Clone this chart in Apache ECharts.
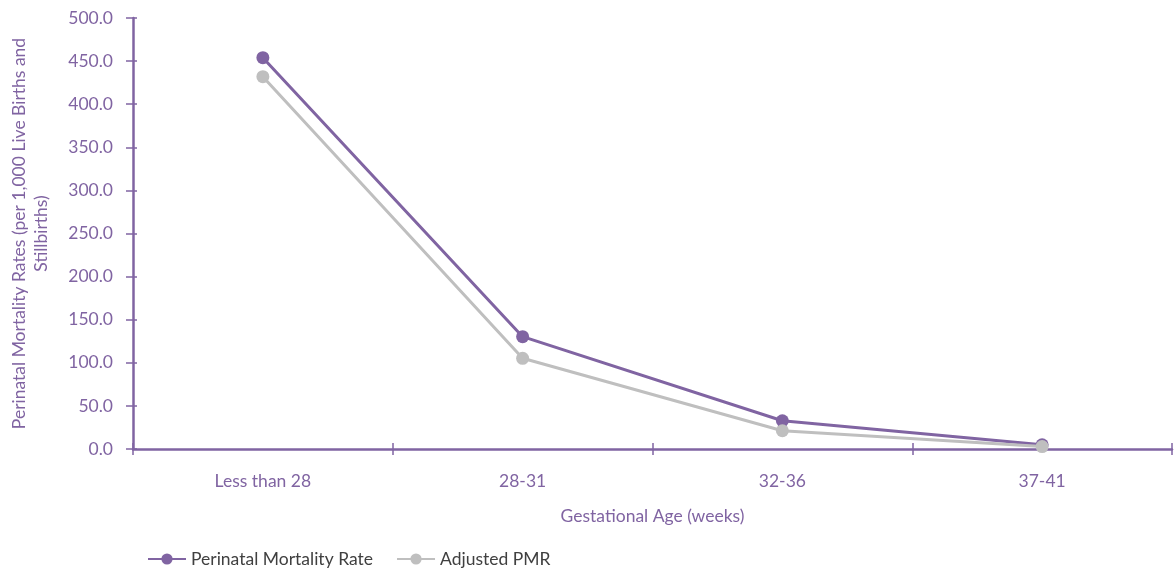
<!DOCTYPE html>
<html>
<head>
<meta charset="utf-8">
<script src="https://cdn.jsdelivr.net/npm/echarts@6/dist/echarts.min.js"></script>
<style>
  html, body { margin: 0; padding: 0; background: #ffffff; }
  #chart { width: 1176px; height: 570px; }
</style>
</head>
<body>
<div id="chart"></div>
<script>
// Gestational age groups
const categories = ['Less than 28', '28-31', '32-36', '37-41'];
// Perinatal mortality per 1,000 live births and stillbirths
const pmrValues = [454.0, 130.3, 32.8, 4.8];
const adjustedPmrValues = [431.9, 105.2, 21.2, 2.8];
const yTicks = { min: 0, max: 500, step: 50 };

const purple = '#8064A2';
const gray = '#BFBFBF';
const font = 'Lato, "Open Sans", sans-serif';
const fs = 17.5;

const chart = echarts.init(document.getElementById('chart'), null, { renderer: 'canvas' });

const baseY = {
  type: 'value',
  min: yTicks.min,
  max: yTicks.max,
  interval: yTicks.step,
  splitLine: { show: false }
};

chart.setOption({
  animation: false,
  backgroundColor: '#ffffff',
  textStyle: { fontFamily: font },
  grid: { left: 133, right: 4, top: 18, bottom: 121, containLabel: false, outerBoundsMode: 'none' },
  legend: {
    left: 147,
    top: 550,
    padding: 0,
    itemWidth: 38,
    itemHeight: 14,
    itemGap: 23,
    textStyle: { color: '#404040', fontSize: fs, fontFamily: font },
    data: ['Perinatal Mortality Rate', 'Adjusted PMR']
  },
  xAxis: [
    {
      type: 'category',
      data: categories,
      boundaryGap: true,
      name: 'Gestational Age (weeks)',
      nameLocation: 'middle',
      nameGap: 58,
      nameTextStyle: { color: purple, fontSize: fs, fontFamily: font },
      axisLine: { lineStyle: { color: purple, width: 2.5 } },
      axisTick: { show: true, length: 6, lineStyle: { color: purple, width: 1.5 } },
      axisLabel: { color: purple, fontSize: fs, margin: 23, fontFamily: font }
    },
    {
      type: 'category',
      data: categories,
      boundaryGap: true,
      position: 'bottom',
      axisLine: { show: false },
      axisTick: { show: true, inside: true, length: 6, lineStyle: { color: purple, width: 1.5 } },
      axisLabel: { show: false }
    }
  ],
  yAxis: [
    Object.assign({}, baseY, {
      name: 'Perinatal Mortality Rates (per 1,000 Live Births and\nStillbirths)',
      nameLocation: 'middle',
      nameGap: 81,
      nameTextStyle: { color: purple, fontSize: fs, lineHeight: 22, align: 'center', fontFamily: font },
      axisLine: { show: true, lineStyle: { color: purple, width: 2.5 } },
      axisTick: { show: true, length: 7, lineStyle: { color: purple, width: 1.5 } },
      axisLabel: {
        color: purple, fontSize: fs, margin: 20, fontFamily: font,
        formatter: v => v.toFixed(1)
      }
    }),
    Object.assign({}, baseY, {
      position: 'left',
      axisLine: { show: false },
      axisTick: { show: true, inside: true, length: 4, lineStyle: { color: purple, width: 1.5 } },
      axisLabel: { show: false }
    })
  ],
  series: [
    {
      name: 'Perinatal Mortality Rate',
      type: 'line',
      data: pmrValues,
      symbol: 'circle',
      symbolSize: 13,
      itemStyle: { color: purple },
      lineStyle: { color: purple, width: 3 },
      z: 2
    },
    {
      name: 'Adjusted PMR',
      type: 'line',
      data: adjustedPmrValues,
      symbol: 'circle',
      symbolSize: 13,
      itemStyle: { color: gray },
      lineStyle: { color: gray, width: 3 },
      z: 3
    }
  ]
});
</script>
</body>
</html>
